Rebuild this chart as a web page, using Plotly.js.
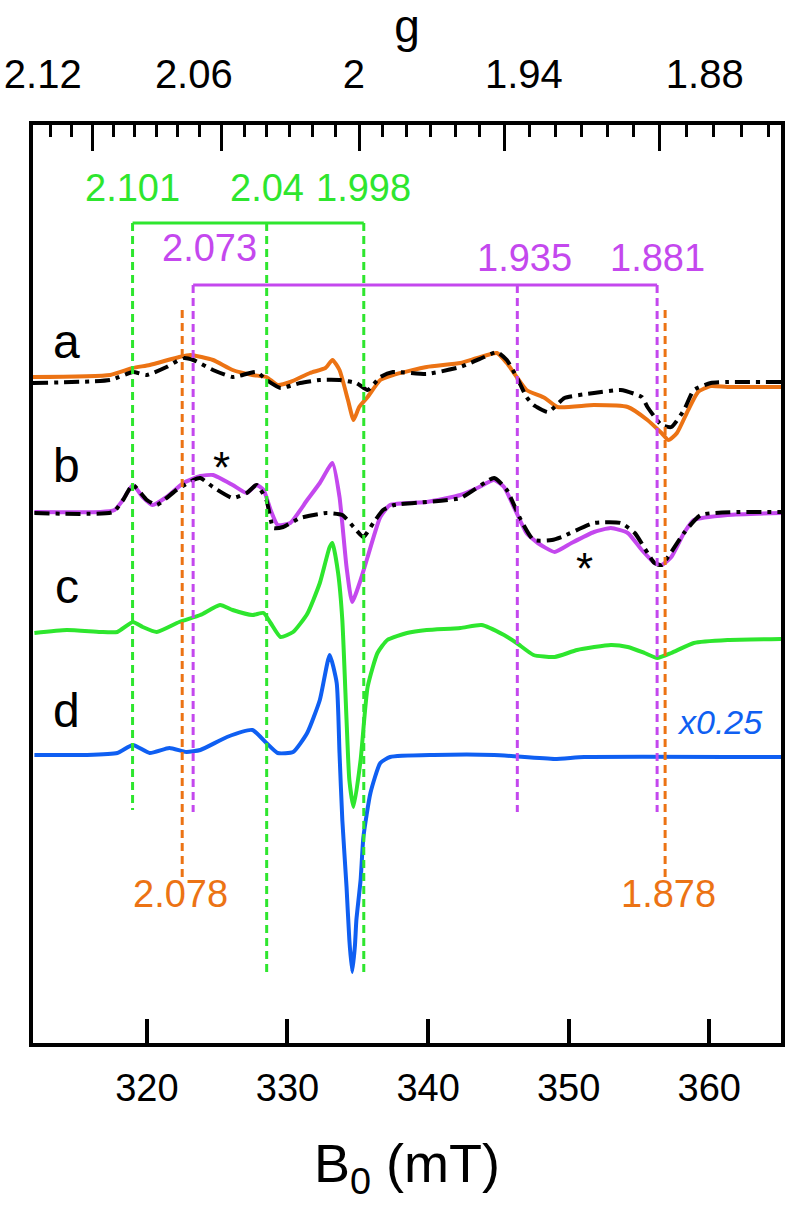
<!DOCTYPE html>
<html>
<head>
<meta charset="utf-8">
<script src="https://cdn.plot.ly/plotly-3.0.1.min.js"></script>
<style>body{margin:0;background:#fff}</style>
</head>
<body>
<div id="eprplot" style="width:788px;height:1206px"></div>
<script>
// field axis (mT) and g markers, microwave freq ~9.38 GHz
var nuGHz = 9.38;
function gToB(g) { return 71.4477 * nuGHz / g; }

// spectrum a (orange) + simulation (black)
var aB   = [311.9,317.4,319.0,320.2,322.3,323.1,324.7,326.1,327.5,328.5,329.3,330.2,331.6,332.7,333.2,333.7,334.3,334.7,335.1,335.7,336.6,337.5,339.9,342.3,343.5,344.9,345.6,346.3,347.0,348.3,349.2,351.8,354.2,355.6,356.6,357.1,357.7,358.5,359.2,360.1,361.3,365.1];
var aSig = [-1,1,8,11,19,21,16,6,1,-1,-9,-6,3,8,16,6,-24,-44,-31,-21,-4,1,9,13,18,23,13,-1,-14,-22,-31,-29,-31,-44,-57,-64,-57,-34,-16,-10,-11,-11];
var aSimB   = [311.9,317.4,319.0,320.0,321.4,322.6,323.3,324.7,326.1,327.8,328.5,329.5,330.9,332.3,333.7,334.9,335.7,336.6,337.5,339.9,342.3,344.0,344.9,345.6,346.3,347.0,347.5,348.5,349.0,349.7,351.8,353.7,355.2,355.6,356.6,357.3,358.2,358.9,360.1,361.3,365.1];
var aSimSig = [-7,-4,4,1,9,18,16,6,-1,4,-4,-12,-7,-4,-4,-7,-14,-1,4,2,9,19,24,16,-1,-21,-29,-36,-31,-22,-17,-14,-21,-31,-49,-51,-34,-14,-7,-6,-6];

// spectrum b (purple) + simulation (black)
var bB   = [312.0,316.7,317.7,318.3,319.0,319.7,320.4,321.4,322.6,323.8,324.7,326.1,327.1,327.8,328.3,328.8,329.3,330.2,331.4,332.3,333.2,333.7,334.2,334.6,335.2,335.7,336.6,337.3,339.9,342.3,343.5,344.7,345.4,346.1,347.0,347.8,349.0,350.2,351.8,353.0,354.2,355.2,356.1,356.6,357.3,358.2,358.9,361.3,365.1];
var bSig = [0,0,2,12,27,15,7,15,29,36,37,27,19,27,22,2,-13,-11,12,29,49,15,-55,-90,-68,-45,-5,7,10,17,24,32,25,5,-21,-31,-40,-31,-20,-16,-21,-38,-51,-53,-45,-21,-8,-3,-1];
var bSimB   = [312.0,317.6,318.3,319.0,320.0,320.7,322.1,323.3,323.8,324.7,326.1,327.1,327.8,328.5,329.0,329.7,330.9,332.8,333.9,334.7,335.4,336.1,336.8,337.6,342.3,344.7,345.6,346.6,347.5,348.8,349.5,351.8,353.7,354.7,356.1,356.6,358.2,359.4,365.1];
var bSimSig = [-1,0,12,27,12,7,22,32,34,25,14,19,27,12,-16,-15,-6,-1,-3,-15,-25,-11,2,7,14,34,22,-8,-28,-28,-25,-11,-11,-21,-51,-53,-21,-3,0];

// spectrum c (green)
var cB   = [312.0,314.3,316.7,317.9,319.0,319.7,320.7,322.3,323.8,325.2,326.1,327.5,328.3,328.8,329.5,330.4,331.4,332.3,333.0,333.2,333.6,333.9,334.2,334.4,334.7,335.2,335.7,336.4,337.1,338.5,339.9,342.3,343.8,345.4,346.3,347.5,349.0,350.6,353.0,354.2,355.4,356.3,357.3,358.9,361.3,365.1];
var cSig = [-1,2,0,0,10,5,0,10,17,27,22,17,19,9,-5,0,18,49,85,89,59,12,-88,-148,-175,-128,-55,-21,-8,-1,2,4,7,-3,-11,-23,-25,-18,-13,-15,-21,-26,-21,-11,-8,-7];

// spectrum d (blue, x0.25)
var dB   = [312.0,315.7,317.9,319.0,320.2,321.6,322.8,323.8,325.7,327.5,328.5,329.3,330.4,331.4,332.3,333.0,333.5,333.7,333.9,334.2,334.4,334.6,334.8,334.9,335.2,335.4,335.9,336.6,337.3,340.4,344.7,349.0,351.1,365.1];
var dSig = [0,0,2,10,2,7,3,5,18,25,12,2,3,22,55,100,72,2,-65,-132,-185,-217,-190,-165,-125,-82,-38,-8,-2,0,0,-4,-2,-2];

var offsets = {a: 667, b: 531, c: 411, d: 288};

// g values
var gMajor = [2.12, 2.06, 2, 1.94, 1.88];
var gMajorText = ['2.12', '2.06', '2', '1.94', '1.88'];
var gMinor = [2.14,2.13,2.11,2.10,2.09,2.08,2.07,2.05,2.04,2.03,2.02,2.01,1.99,1.98,1.97,1.96,1.95,1.93,1.92,1.91,1.90,1.89,1.87,1.86,1.85,1.84];
var greenG = [2.101, 2.04, 1.998];
var greenText = ['2.101', '2.04', '1.998'];
var purpleG = [2.073, 1.935, 1.881];
var purpleText = ['2.073', '1.935', '1.881'];
var orangeG = [2.078, 1.878];
var orangeText = ['2.078', '1.878'];

var ORANGE = '#ec7314', PURPLE = '#c448ee', GREEN = '#2ee62e', BLUE = '#0f5ff2';
var FONT = 'Liberation Sans, Arial, sans-serif';

function shift(arr, off) { return arr.map(function (v) { return v + off; }); }
function vlines(gs, top, bottoms) {
    var x = [], y = [];
    gs.forEach(function (g, i) { var b = gToB(g); x.push(b, b, null); y.push(top, bottoms[i], null); });
    return {x: x, y: y};
}
function bracket(gs, top) {
    return {x: [gToB(gs[0]), gToB(gs[gs.length - 1])], y: [top, top]};
}

var sim = {color: 'black', width: 4, dash: '15px,6px,4px,6px', shape: 'spline', smoothing: 0.5};
var spec = function (c) { return {color: c, width: 4, shape: 'spline', smoothing: 0.5}; };

var gv = vlines(greenG, 820, [233, 70, 70]);
var pv = vlines(purpleG, 758, [231, 231, 231]);
var ov = vlines(orangeG, 733, [166, 166]);
var gb = bracket(greenG, 820);
var pb = bracket(purpleG, 758);
var dashed = function (c) { return {color: c, width: 3, dash: '8px,5px'}; };
var invG = gMajor.map(function (g) { return 1 / g; });

var data = [
    {x: aB, y: shift(aSig, offsets.a), mode: 'lines', line: spec(ORANGE)},
    {x: aSimB, y: shift(aSimSig, offsets.a), mode: 'lines', line: sim},
    {x: bB, y: shift(bSig, offsets.b), mode: 'lines', line: spec(PURPLE)},
    {x: bSimB, y: shift(bSimSig, offsets.b), mode: 'lines', line: sim},
    {x: cB, y: shift(cSig, offsets.c), mode: 'lines', line: spec(GREEN)},
    {x: dB, y: shift(dSig, offsets.d), mode: 'lines', line: spec(BLUE)},
    {x: gv.x, y: gv.y, xaxis: 'x2', mode: 'lines', line: dashed(GREEN), connectgaps: false},
    {x: pv.x, y: pv.y, xaxis: 'x2', mode: 'lines', line: dashed(PURPLE), connectgaps: false},
    {x: ov.x, y: ov.y, xaxis: 'x2', mode: 'lines', line: dashed(ORANGE), connectgaps: false},
    {x: gb.x, y: gb.y, xaxis: 'x2', mode: 'lines', line: {color: GREEN, width: 3}},
    {x: pb.x, y: pb.y, xaxis: 'x2', mode: 'lines', line: {color: PURPLE, width: 3}},
    // g scale holder (no visible marks)
    {x: invG, y: invG.map(function () { return null; }), xaxis: 'x3', mode: 'lines', line: {width: 0}}
];
data.forEach(function (t) { t.hoverinfo = 'skip'; t.type = 'scatter'; });

var ann = [];
function addLabels(gs, texts, yv, color, xshifts) {
    gs.forEach(function (g, i) {
        ann.push({x: gToB(g), y: yv[i], xref: 'x', yref: 'y', text: texts[i], showarrow: false,
            xshift: xshifts ? xshifts[i] : 0, font: {size: 38, color: color}});
    });
}
addLabels(greenG, greenText, [855, 855, 855], GREEN);
addLabels(purpleG, purpleText, [795, 785, 785], PURPLE, [16, 7, 0]);
addLabels(orangeG, orangeText, [149, 149], ORANGE, [-2, 3]);

var letters = ['a', 'b', 'c', 'd'];
var letterY = [702, 578, 457, 333];
letters.forEach(function (s, i) {
    ann.push({x: 314.3, y: letterY[i], xref: 'x', yref: 'y', text: s, showarrow: false, font: {size: 48, color: 'black'}});
});
ann.push({x: 325.3, y: 576, xref: 'x', yref: 'y', text: '*', showarrow: false, font: {size: 44, color: 'black'}});
ann.push({x: 351.1, y: 475, xref: 'x', yref: 'y', text: '*', showarrow: false, font: {size: 44, color: 'black'}});
ann.push({x: 360.7, y: 321, xref: 'x', yref: 'y', text: '<i>x0.25</i>', showarrow: false, font: {size: 34, color: BLUE}});

var Brange = [311.9, 365.1];
var layout = {
    width: 788, height: 1206,
    margin: {l: 33, r: 7, t: 125, b: 163},
    paper_bgcolor: 'white', plot_bgcolor: 'white',
    font: {family: FONT, color: 'black'},
    showlegend: false,
    xaxis: {range: Brange, tickmode: 'array', tickvals: [320, 330, 340, 350, 360],
        ticks: 'inside', ticklen: 24, tickwidth: 4, tickcolor: 'black',
        showline: true, linewidth: 4, linecolor: 'black', mirror: true,
        showgrid: false, zeroline: false, tickfont: {size: 38}, ticklabelstandoff: 8,
        title: {text: 'B<sub>0</sub> (mT)', font: {size: 54}, standoff: 38}},
    xaxis2: {overlaying: 'x', anchor: 'y', side: 'top', range: Brange,
        tickmode: 'array', tickvals: gMajor.map(gToB), ticks: 'inside', ticklen: 26, tickwidth: 3,
        tickcolor: 'black', showticklabels: false, showgrid: false, zeroline: false, showline: false,
        minor: {tickmode: 'array', tickvals: gMinor.map(gToB), ticks: 'inside', ticklen: 12, tickwidth: 3, tickcolor: 'black', showgrid: false}},
    xaxis3: {overlaying: 'x', anchor: 'y', side: 'top', range: [0.47081, 0.53885],
        tickmode: 'array', tickvals: invG, ticktext: gMajorText,
        ticks: '', showgrid: false, zeroline: false, showline: false,
        tickfont: {size: 40}, ticklabelstandoff: 28,
        title: {text: 'g', font: {size: 46}, standoff: 18}},
    yaxis: {range: [0, 918], showline: true, linewidth: 4, linecolor: 'black', mirror: true,
        ticks: '', showticklabels: false, showgrid: false, zeroline: false},
    annotations: ann
};

Plotly.newPlot('eprplot', data, layout, {staticPlot: true});
</script>
</body>
</html>
